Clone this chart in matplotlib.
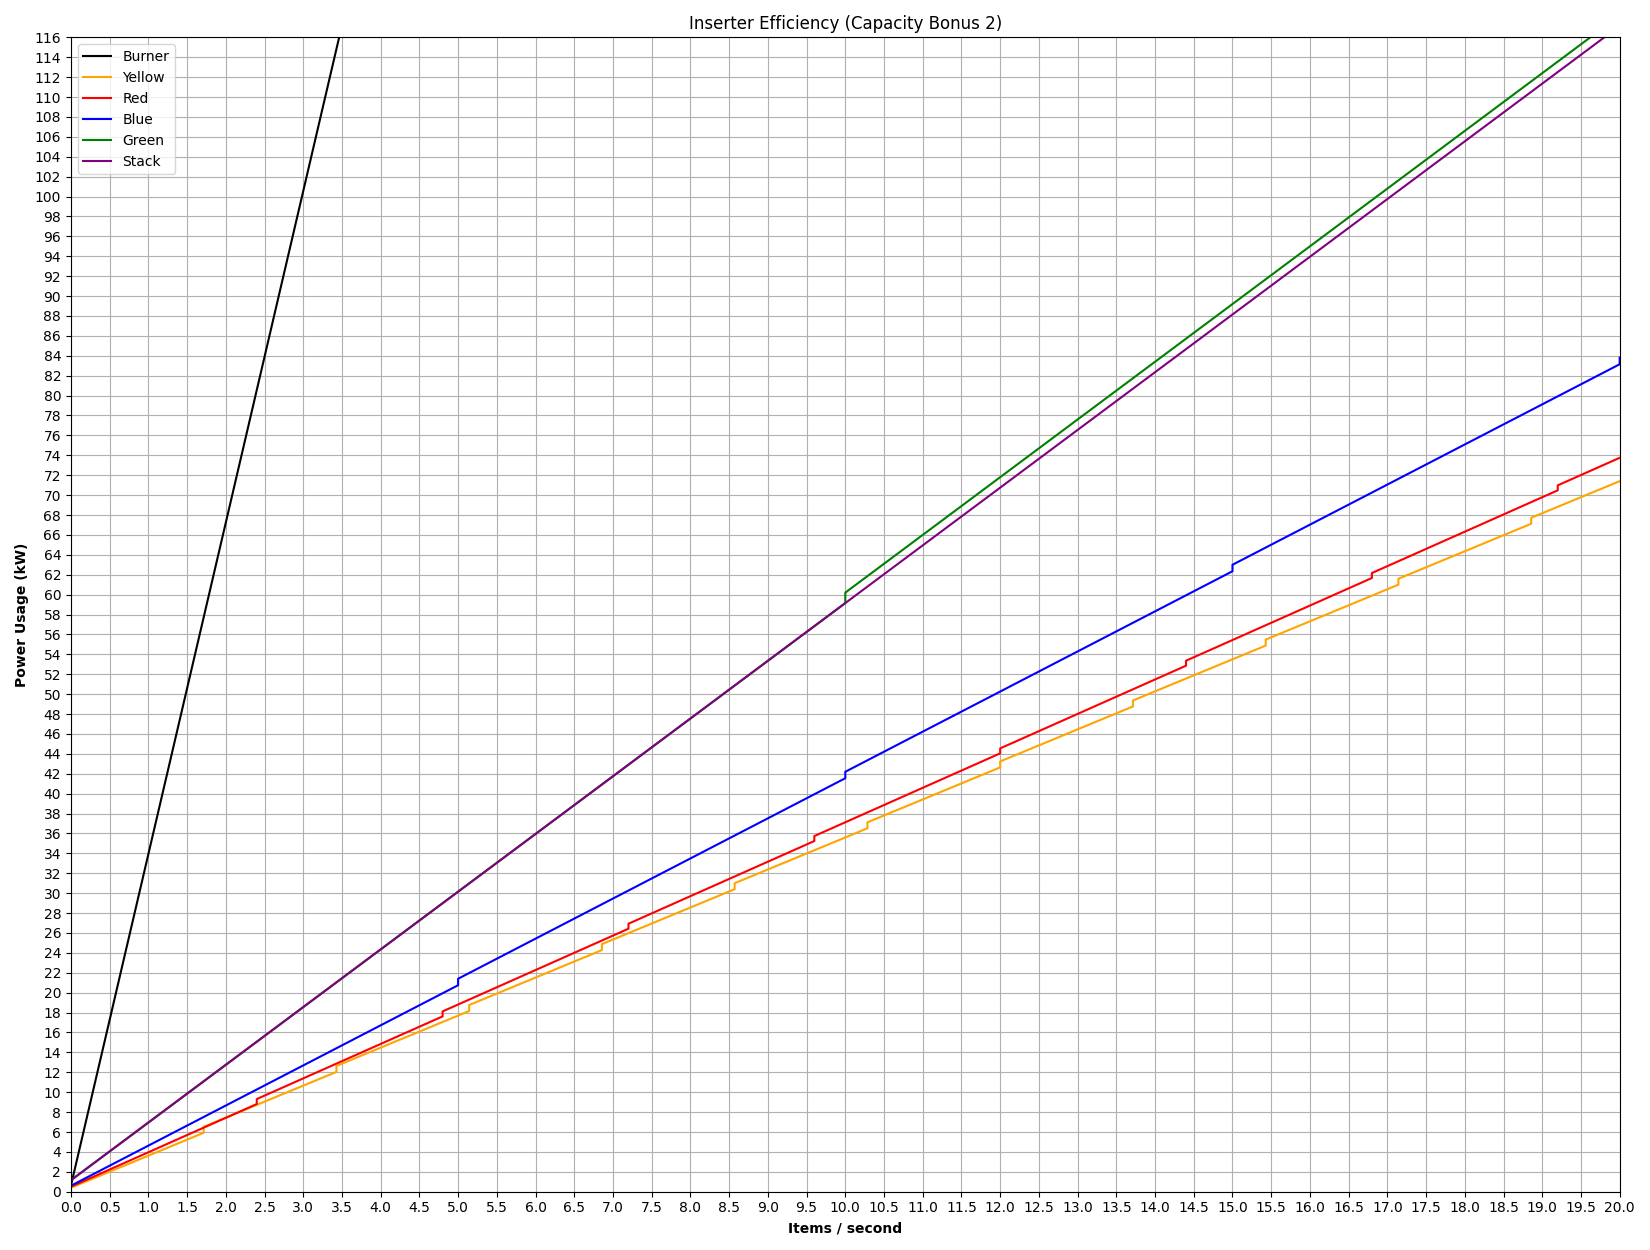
import numpy as np
import matplotlib.pyplot as plt

# Breakpoints (items/s, kW); the steps are the small vertical jumps
burner_x = [0.0, 3.5]
burner_y = [0.6, 117.2]

yellow_x = [0.0, 1.714, 1.714, 3.429, 3.429, 5.143, 5.143, 6.857, 6.857, 8.571, 8.571,
            10.286, 10.286, 12.0, 12.0, 13.714, 13.714, 15.429, 15.429, 17.143, 17.143,
            18.857, 18.857, 20.0]
yellow_y = [0.4, 5.92, 6.52, 12.04, 12.64, 18.16, 18.76, 24.28, 24.88, 30.40, 31.00,
            36.52, 37.12, 42.64, 43.24, 48.76, 49.36, 54.88, 55.48, 61.00, 61.60,
            67.12, 67.72, 71.40]

red_x = [0.0, 2.4, 2.4, 4.8, 4.8, 7.2, 7.2, 9.6, 9.6, 12.0, 12.0, 14.4, 14.4,
         16.8, 16.8, 19.2, 19.2, 20.0]
red_y = [0.5, 8.81, 9.31, 17.62, 18.12, 26.43, 26.93, 35.24, 35.74, 44.05, 44.55,
         52.86, 53.36, 61.67, 62.17, 70.48, 70.98, 73.75]

blue_x = [0.0, 5.0, 5.0, 10.0, 10.0, 15.0, 15.0, 20.0, 20.0]
blue_y = [0.6, 20.75, 21.4, 41.55, 42.2, 62.35, 63.0, 83.15, 83.8]

green_x = [0.0, 10.0, 10.0, 20.0]
green_y = [1.15, 59.15, 60.2, 118.2]

stack_x = [0.0, 20.0]
stack_y = [1.15, 117.15]

series = [
    ("Burner", burner_x, burner_y, "black"),
    ("Yellow", yellow_x, yellow_y, "orange"),
    ("Red", red_x, red_y, "red"),
    ("Blue", blue_x, blue_y, "blue"),
    ("Green", green_x, green_y, "green"),
    ("Stack", stack_x, stack_y, "purple"),
]

fig, ax = plt.subplots(figsize=(16.5, 12.5), dpi=100)

for name, xs, ys, col in series:
    ax.plot(xs, ys, color=col, label=name)

ax.set_xlim(0, 20)
ax.set_ylim(0, 116)
ax.set_xticks(np.arange(0, 20.01, 0.5))
ax.set_yticks(np.arange(0, 117, 2))
ax.grid(True)
ax.set_title("Inserter Efficiency (Capacity Bonus 2)")
ax.set_xlabel("Items / second", fontweight="bold")
ax.set_ylabel("Power Usage (kW)", fontweight="bold")
ax.legend(loc="upper left")

fig.tight_layout()
fig.savefig("out.png")
